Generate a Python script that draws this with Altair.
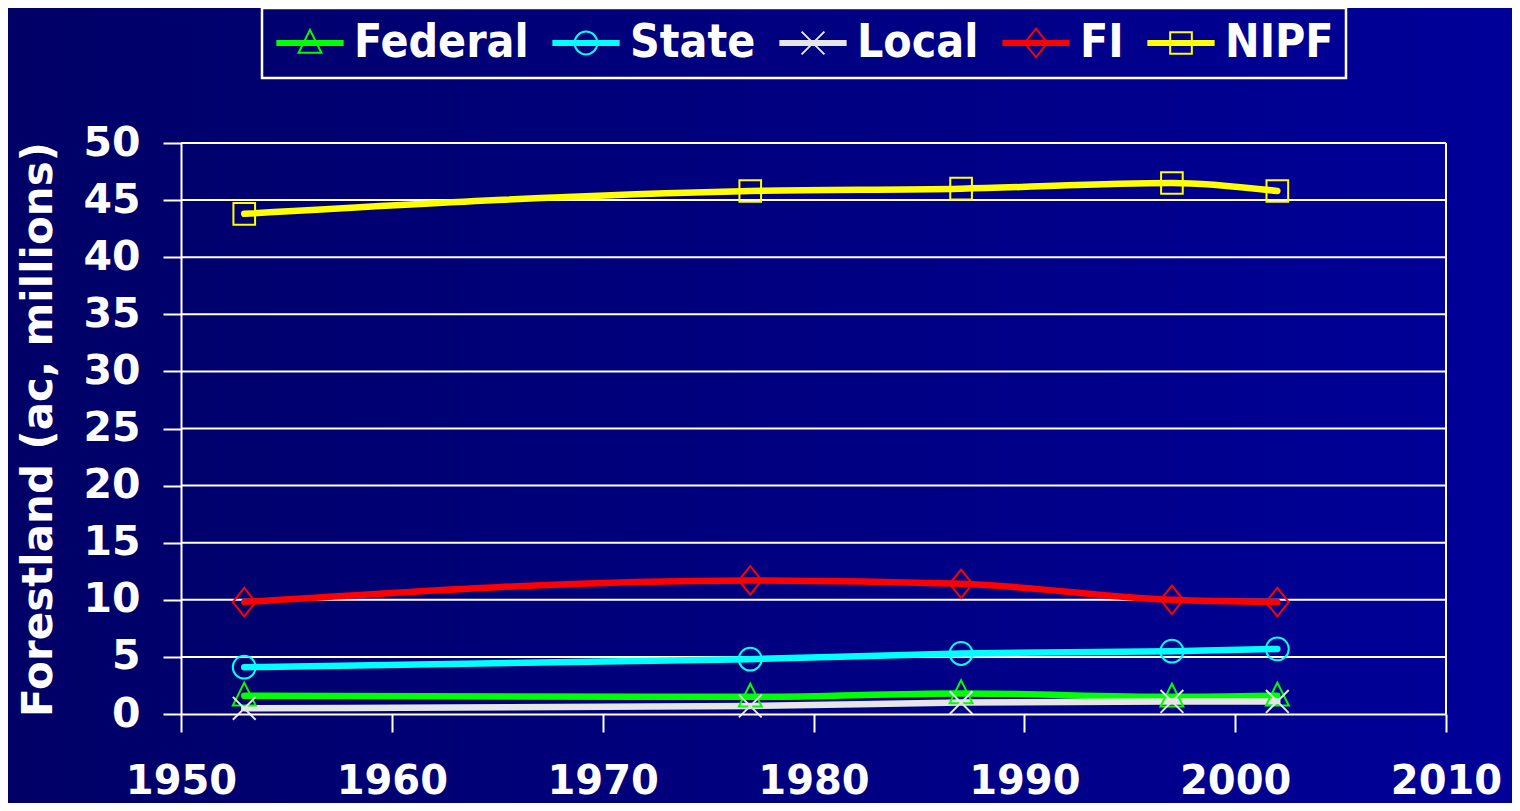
import altair as alt
import pandas as pd

# ---- data ----
years = [1953, 1977, 1987, 1997, 2002]
series = ["Federal", "State", "Local", "FI", "NIPF"]
federal = [1.6, 1.5, 1.8, 1.5, 1.6]
state = [4.1, 4.8, 5.3, 5.5, 5.7]
local = [0.5, 0.7, 1.0, 1.1, 1.1]
fi = [9.8, 11.7, 11.4, 10.0, 9.8]
nipf = [43.8, 45.8, 46.0, 46.5, 45.8]
colors = ["#00ff00", "#00ffff", "#e6e6e6", "#ff0000", "#ffff00"]
x_ticks = [1950, 1960, 1970, 1980, 1990, 2000, 2010]
y_ticks = [0, 5, 10, 15, 20, 25, 30, 35, 40, 45, 50]
grid_vals = [5, 10, 15, 20, 25, 30, 35, 40, 45, 50]

values = {"Federal": federal, "State": state, "Local": local, "FI": fi, "NIPF": nipf}
rows = []
for s in series:
    for yr, v in zip(years, values[s]):
        rows.append({"year": yr, "value": v, "series": s})
df = pd.DataFrame(rows)
grid_df = pd.DataFrame({"g": grid_vals})
one = pd.DataFrame({"k": [0]})

# marker shapes in plot
plot_shapes = [
    "M0,-1.15L1,0.85L-1,0.85Z",
    "circle",
    "M-1,-1L1,1M-1,1L1,-1",
    "M0,-1.25L1,0L0,1.25L-1,0Z",
    "M-0.95,-0.95H0.95V0.95H-0.95Z",
]
seg = "M-2.95,-0.18H2.95M-2.95,0H2.95M-2.95,0.18H2.95"
legend_shapes = [seg + p if p != "circle" else seg + "M1,0A1,1 0 1,1 -1,0A1,1 0 1,1 1,0Z" for p in plot_shapes]

W, H = 1265, 571
PL, PT, PR, PB = 173, 135, 66, 89
FONT = "DejaVu Sans"
LFONT = "DejaVu Sans Condensed, Liberation Sans Narrow, DejaVu Sans"

xscale = alt.Scale(domain=[1950, 2010], nice=False, zero=False)
yscale = alt.Scale(domain=[0, 50], nice=False)
cscale = alt.Scale(domain=series, range=colors)

x_axis = alt.Axis(values=x_ticks, format="d", title=None, grid=False,
                  labelFont=FONT, labelFontSize=40, labelFontWeight="bold",
                  labelColor="white", labelPadding=29, labelFlush=False,
                  tickColor="white", tickSize=18, tickWidth=2,
                  domainColor="white", domainWidth=2, zindex=1)
y_axis = alt.Axis(values=y_ticks, title="Forestland (ac, millions)", grid=False,
                  labelFont=FONT, labelFontSize=41, labelFontWeight="bold",
                  labelColor="white", labelPadding=23,
                  tickColor="white", tickSize=18, tickWidth=2,
                  domainColor="white", domainWidth=2, zindex=1,
                  titleFont=FONT, titleFontSize=42, titleFontWeight="bold",
                  titleColor="white", titleAngle=270, titleX=-143, titleY=286,
                  titleAlign="center", titleBaseline="middle")

gradient = {"gradient": "linear", "x1": 0, "x2": 1, "y1": 0, "y2": 0,
            "stops": [{"offset": 0, "color": "#000067"}, {"offset": 1, "color": "#000099"}]}

bg = alt.Chart(one).mark_rect(fill=gradient, strokeWidth=0).encode(
    x=alt.value(-PL), x2=alt.value(W + PR), y=alt.value(-PT), y2=alt.value(H + PB)
)

grid = alt.Chart(grid_df).mark_rule(color="white", strokeWidth=2).encode(
    y=alt.Y("g:Q", scale=yscale, axis=y_axis),
    x=alt.datum(1950, scale=xscale, axis=x_axis),
    x2=alt.datum(2010),
)

border = alt.Chart(one).mark_rule(color="white", strokeWidth=2).encode(
    x=alt.datum(2010, scale=xscale, axis=x_axis),
    y=alt.datum(0, scale=yscale, axis=y_axis),
    y2=alt.datum(50),
)

lines = alt.Chart(df).mark_line(strokeWidth=6.5, interpolate="monotone", strokeCap="round",
                                opacity=1).encode(
    x=alt.X("year:Q", scale=xscale, axis=x_axis),
    y=alt.Y("value:Q", scale=yscale, axis=y_axis),
    color=alt.Color("series:N", scale=cscale, legend=None),
)

points = alt.Chart(df).mark_point(filled=False, strokeWidth=2, size=520, opacity=1).encode(
    x=alt.X("year:Q", scale=xscale, axis=x_axis),
    y=alt.Y("value:Q", scale=yscale, axis=y_axis),
    color=alt.Color("series:N", scale=cscale, legend=None),
    shape=alt.Shape("series:N", scale=alt.Scale(domain=series, range=plot_shapes), legend=None),
)

leg = alt.Legend(orient="none", legendX=81, legendY=-135, direction="horizontal",
                 columns=5, title=None, labelFont=LFONT, labelFontSize=46,
                 labelFontWeight="bold", labelColor="white", symbolSize=520,
                 symbolStrokeWidth=2, symbolOpacity=1, symbolOffset=13, labelOffset=21,
                 columnPadding=19, labelLimit=0)

legend_layer = alt.Chart(df).transform_filter("false").mark_point(
    filled=False, strokeWidth=2, size=520, opacity=1).encode(
    x=alt.X("year:Q", scale=xscale, axis=x_axis),
    y=alt.Y("value:Q", scale=yscale, axis=y_axis),
    color=alt.Color("series:N", scale=cscale, legend=leg),
    shape=alt.Shape("series:N", scale=alt.Scale(domain=series, range=legend_shapes), legend=leg),
)

chart = alt.layer(bg, grid, border, lines, points, legend_layer).resolve_scale(
    color="independent", shape="independent"
).properties(
    width=W, height=H,
    autosize=alt.AutoSizeParams(type="none"),
    padding={"left": PL, "top": PT, "right": PR, "bottom": PB},
    background="#00007a",
).configure_view(strokeWidth=0).configure_legend(
    strokeColor="white", strokeWidth=2.5, padding=12
)

chart.save("out.html", embed_options={"renderer": "svg", "actions": False})
